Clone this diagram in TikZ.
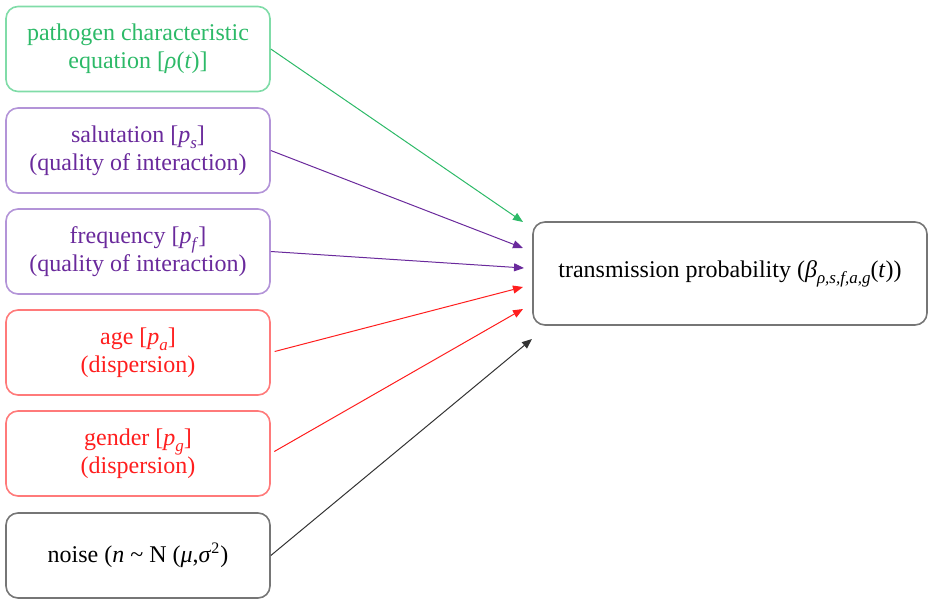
\documentclass[tikz,border=0pt]{standalone}
\usepackage{fontspec}
\setmainfont{Liberation Serif}
\usetikzlibrary{arrows.meta, positioning}
\definecolor{mygreen}{HTML}{2DBA68}
\definecolor{mygreenlight}{HTML}{80DCA8}
\definecolor{mypurple}{HTML}{6A2A9C}
\definecolor{mypurplelight}{HTML}{B394D8}
\definecolor{myred}{HTML}{FF1E1E}
\definecolor{myredlight}{HTML}{FF7A7A}
\definecolor{mygray}{HTML}{767676}
\newcommand{\iv}[1]{\textit{#1}}
\newcommand{\isub}[2]{\textit{#1}\raisebox{-0.55ex}{\fontsize{8.5}{10}\selectfont\textit{#2}}}
\tikzset{
	factornode/.style={
			rectangle,
			rounded corners=6pt,
			draw=mygray,
			line width=0.8pt,
			fill=white,
			minimum width=132pt,
			minimum height=42.5pt,
			align=center,
			inner sep=0pt,
			font=\fontsize{12}{14}\selectfont
		},
	greennode/.style={
			factornode,
			draw=mygreenlight,
			text=mygreen
		},
	purplenode/.style={
			factornode,
			draw=mypurplelight,
			text=mypurple
		},
	rednode/.style={
			factornode,
			draw=myredlight,
			text=myred
		},
	resultnode/.style={
			factornode,
			minimum width=197pt,
			minimum height=51.5pt
		},
	feed/.style={
			-{Triangle[length=5pt,width=4pt]},
			line width=0.5pt
		}
}

\begin{document}
\begin{tikzpicture}[x=0.5pt, y=-0.5pt]
				\useasboundingbox (0,0) rectangle (929,599);

				\node[greennode] (patho) at (138, 49) {pathogen characteristic\\equation [\iv{ρ}(\iv{t})]};
				\node[purplenode] (salut) at (138, 150.5) {salutation [\isub{p}{s}]\\(quality of interaction)};
				\node[purplenode] (freq) at (138, 251.5) {frequency [\isub{p}{f}]\\(quality of interaction)};
				\node[rednode] (age) at (138, 352.5) {age [\isub{p}{a}]\\(dispersion)};
				\node[rednode] (gender) at (138, 453.5) {gender [\isub{p}{g}]\\(dispersion)};
				\node[factornode, text=black] (noise) at (138, 555.5) {noise (\iv{n} \textasciitilde{} N (\iv{μ},\iv{σ}\textsuperscript{2})};

				\node[resultnode] (trans) at (730, 273.5) {transmission probability (\isub{β}{ρ,s,f,a,g}(\iv{t}))};

				\coordinate (epatho) at (523, 222);
				\coordinate (esalut) at (523, 248);
				\coordinate (efreq) at (524, 268);
				\coordinate (eage) at (523, 287);
				\coordinate (egender) at (523, 309);
				\coordinate (enoise) at (532, 339);

				\draw[feed, mygreen] (patho.east) -- (epatho);
				\draw[feed, mypurple] (salut.east) -- (esalut);
				\draw[feed, mypurple] (freq.east) -- (efreq);
				\draw[feed, myred, shorten <=2pt] (age.east) -- (eage);
				\draw[feed, myred, shorten <=2pt] (gender.east) -- (egender);
				\draw[feed, black!80] (noise.east) -- (enoise);
			\end{tikzpicture}
\end{document}
